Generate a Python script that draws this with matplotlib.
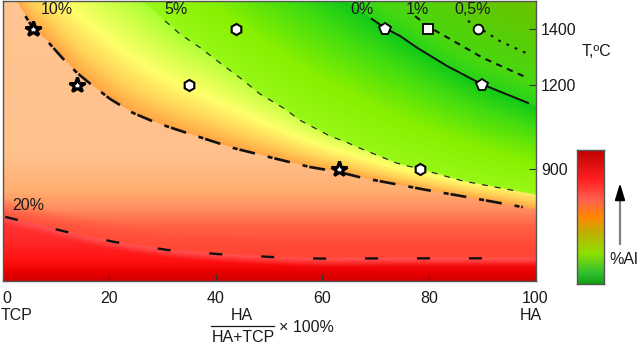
import numpy as np
import matplotlib
matplotlib.use('Agg')
import matplotlib.pyplot as plt
from matplotlib.colors import to_rgb

plt.rcParams['font.family'] = ['Liberation Sans', 'DejaVu Sans']
plt.rcParams['lines.scale_dashes'] = False

# ---------------- data ----------------
x_ticks = [0, 20, 40, 60, 80, 100]
y_ticks = [900, 1200, 1400]

# iso-lines (x in %HA, T in degC)
x_20 = [0.5, 12.1, 21.1, 30.9, 40.5, 50.2, 59.6, 74.6, 92.0]
t_20 = [729, 675, 639, 611, 596, 586, 580, 581, 581]

x_10 = [4.3, 5.8, 8.4, 11.2, 14.0, 16.5, 20.2, 24.5, 29.0, 35.2, 43.3, 50.8, 57.7, 63.2, 67.6, 79.6, 87.1, 97.6]
t_10 = [1446, 1400, 1357, 1297, 1243, 1204, 1150, 1100, 1064, 1025, 975, 939, 907, 889, 868, 825, 800, 764]

x_5 = [30.5, 33.3, 37.1, 40.8, 44.6, 48.3, 52.7, 56.0, 61.4, 64.6, 67.6, 74.0, 78.3, 86.4, 96.5]
t_5 = [1429, 1382, 1333, 1279, 1225, 1168, 1118, 1072, 1018, 995, 970, 921, 900, 857, 821]

x_0 = [69.3, 71.7, 74.6, 77.8, 83.4, 89.9, 98.6]
t_0 = [1436, 1404, 1375, 1333, 1268, 1203, 1136]

x_1 = [77.4, 80.0, 84.0, 90.1, 98.4]
t_1 = [1446, 1407, 1364, 1297, 1226]

x_05 = [87.3, 89.2, 93.3, 98.6]
t_05 = [1429, 1407, 1357, 1311]

# experimental points
hex_x = [43.8, 35.0, 78.3]
hex_t = [1400, 1200, 900]
pent_x = [71.7, 89.9]
pent_t = [1400, 1200]
sq_x = [79.8]
sq_t = [1400]
circ_x = [89.2]
circ_t = [1400]
star_x = [5.8, 14.0, 63.2]
star_t = [1400, 1200, 900]

# ---------------- helpers ----------------
W, H = 640, 361
FS = 11.5


def ext(xp, tp, xq):
    xp = np.asarray(xp, float)
    tp = np.asarray(tp, float)
    y = np.interp(xq, xp, tp)
    sl = (tp[1] - tp[0]) / (xp[1] - xp[0])
    sr = (tp[-1] - tp[-2]) / (xp[-1] - xp[-2])
    y = np.where(xq < xp[0], tp[0] + sl * (xq - xp[0]), y)
    y = np.where(xq > xp[-1], tp[-1] + sr * (xq - xp[-1]), y)
    return y


def grad(t, stops):
    pos = np.array([s[0] for s in stops], float)
    cols = np.array([to_rgb(s[1]) for s in stops])
    t = np.clip(t, pos[0], pos[-1])
    return np.stack([np.interp(t, pos, cols[:, k]) for k in range(3)], axis=-1)


fig = plt.figure(figsize=(W / 100, H / 100), dpi=100)
ax = fig.add_axes([2.5 / W, 1 - 281 / H, (535.5 - 2.5) / W, 280 / H])
ax.set_xlim(0, 100)
ax.set_ylim(500, 1500)

# ---------------- background field ----------------
nx, ny = 500, 350
xs = np.linspace(0, 100, nx)
ts = np.linspace(500, 1500, ny)
X, TT = np.meshgrid(xs, ts)
T20 = ext(x_20, t_20, X)
T10 = ext(x_10, t_10, X)
T5 = ext(x_5, t_5, X)
T0 = ext(x_0, t_0, X)

c0 = grad(TT, [(500, '#d20000'), (530, '#e80000'), (570, '#ff1010'),
               (640, '#ff2828'), (740, '#ff3a3a')])
w0 = np.clip(1 - (T20 - TT) / 30, 0, 1)[..., None]
c0 = c0 * (1 - w0) + np.array(to_rgb('#ff5555')) * w0

c1 = grad(TT, [(600, '#ff4030'), (700, '#ff6545'), (760, '#ff9060'),
               (830, '#ffb072'), (950, '#ffc08c'), (1500, '#ffc590')])
w1 = (np.clip(1 - (TT - T20) / 70, 0, 1) * 0.8)[..., None]
c1 = c1 * (1 - w1) + np.array(to_rgb('#ff4a38')) * w1

t2 = (TT - T10) / np.maximum(T5 - T10, 1)
f2 = np.where(X > 30, 1 - 0.65 * (X - 30) / 70, 1.0)
c2 = grad(t2 * f2, [(0, '#ffa445'), (0.2, '#ffd258'), (0.45, '#ffff6a'),
                    (0.75, '#d0ff48'), (1, '#a8ff30')])

t3 = (TT - T5) / np.maximum(T0 - T5, 1)
c3 = grad(t3, [(0, '#98f818'), (0.35, '#88f000'), (0.75, '#40dc10'), (1, '#10c818')])

c4 = grad(TT - T0, [(0, '#28d418'), (80, '#48d810'), (350, '#68c400')])

m0 = (TT < T20)[..., None]
m1 = ((TT >= T20) & (TT < T10))[..., None]
m2 = ((TT >= T10) & (TT < T5))[..., None]
m3 = ((TT >= T5) & (TT < T0))[..., None]
img = np.where(m0, c0, np.where(m1, c1, np.where(m2, c2, np.where(m3, c3, c4))))
ax.imshow(img, extent=[0, 100, 500, 1500], origin='lower', aspect='auto',
          interpolation='bilinear', zorder=0)

# ---------------- iso-lines ----------------
k = '#111111'
ax.plot(x_20, t_20, color=k, lw=1.7, dashes=(9.4, 28), zorder=2)
ax.plot(x_10, t_10, color=k, lw=1.9, dashes=(3.6, 1.4, 11.5, 9.4), zorder=2)
ax.plot(x_5, t_5, color='#222222', lw=0.85, dashes=(4.3, 5), zorder=2)
ax.plot(x_0, t_0, color=k, lw=1.4, zorder=2)
ax.plot(x_1, t_1, color=k, lw=1.5, dashes=(4.5, 4), zorder=2)
ax.plot(x_05, t_05, color=k, lw=1.5, dashes=(2, 4.5), zorder=2)

# ---------------- markers ----------------
mk = dict(linestyle='none', markerfacecolor='white', markeredgecolor='black', zorder=3)
ax.plot(hex_x, hex_t, marker='h', ms=8, mew=1.5, **mk)
ax.plot(pent_x, pent_t, marker='p', ms=8.5, mew=1.3, **mk)
ax.plot(sq_x, sq_t, marker='s', ms=6.5, mew=1.3, **mk)
ax.plot(circ_x, circ_t, marker='o', ms=7, mew=1.3, **mk)
ax.plot(star_x, star_t, marker='*', ms=11.5, mew=2.2, **mk)

# ---------------- axes styling ----------------
ax.set_xticks(x_ticks)
ax.set_yticks(y_ticks)
ax.yaxis.tick_right()
ax.tick_params(axis='x', direction='in', length=5, pad=7, labelsize=FS,
               color='#333333', labelcolor='#1a1a1a')
ax.tick_params(axis='y', direction='in', length=5, pad=4, labelsize=FS,
               color='#333333', labelcolor='#1a1a1a')
ax.get_xticklabels()[0].set_horizontalalignment('left')
for s in ax.spines.values():
    s.set_color('#555555')
    s.set_linewidth(1)

# ---------------- colour bar ----------------
cax = fig.add_axes([577 / W, 1 - 284 / H, 27 / W, 134 / H])
cb = grad(np.linspace(0, 1, 200), [(0, '#10a010'), (0.08, '#30c030'), (0.23, '#90e000'),
                                   (0.38, '#c0b000'), (0.5, '#ff8800'), (0.63, '#ff6050'),
                                   (0.78, '#ff2020'), (0.9, '#dc1010'), (1, '#c00000')])
cax.imshow(cb[:, None, :], extent=[0, 1, 0, 1], origin='lower', aspect='auto')
cax.set_xticks([])
cax.set_yticks([])
for s in cax.spines.values():
    s.set_color('#555555')
    s.set_linewidth(1)

# ---------------- overlay (pixel coordinates) ----------------
ov = fig.add_axes([0, 0, 1, 1], zorder=5)
ov.set_xlim(0, W)
ov.set_ylim(H, 0)
ov.axis('off')
ov.patch.set_alpha(0)

lab = dict(fontsize=FS, color='#1a1a1a', ha='center', va='center')
for txt, px, py in [('10%', 57, 10), ('5%', 176, 10), ('0%', 362, 10),
                    ('1%', 417, 10), ('0,5%', 473, 10), ('20%', 28, 206)]:
    ov.text(px, py, txt, **lab)

ov.text(1, 315, 'TCP', fontsize=FS, color='#1a1a1a', ha='left', va='center')
ov.text(531, 315, 'HA', **lab)
ov.text(242, 315, 'HA', **lab)
ov.plot([211, 274], [326, 326], color='#1a1a1a', lw=0.9)
ov.text(243, 338, 'HA+TCP', **lab)
ov.text(279, 327, '× 100%', fontsize=FS, color='#1a1a1a', ha='left', va='center')
ov.text(597, 51, 'T,ºC', **lab)
ov.text(624, 260, '%Al', **lab)

ov.annotate('', xy=(620, 196), xytext=(620, 247),
            arrowprops=dict(arrowstyle='-', lw=1.6, color='#808080'))
ov.annotate('', xy=(620, 183), xytext=(620, 198),
            arrowprops=dict(arrowstyle='-|>,head_length=1.0,head_width=0.3',
                            lw=1.4, color='black', shrinkA=0, shrinkB=0))

fig.savefig('out.png', dpi=100)
